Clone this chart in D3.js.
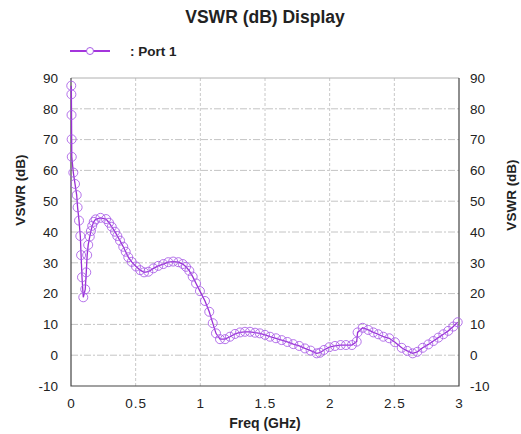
<!DOCTYPE html>
<html>
<head>
<meta charset="utf-8">
<script src="https://cdn.jsdelivr.net/npm/d3@7"></script>
<style>
  body { margin: 0; background: #fff; }
  text { font-family: "Liberation Sans", Arial, sans-serif; fill: #222; }
</style>
</head>
<body>
<div id="chart"></div>
<script>
// frequency sweep (GHz) and VSWR (dB)
const freqGHz = [
  0.002, 0.003, 0.004, 0.005, 0.006, 0.018, 0.031, 0.044, 0.051, 0.062, 0.072, 0.078, 0.085, 0.095,
  0.110, 0.118, 0.125, 0.133, 0.145, 0.154, 0.164, 0.176, 0.190, 0.228,
  0.271, 0.294, 0.315, 0.340, 0.358, 0.379, 0.404, 0.423, 0.443, 0.469, 0.503, 0.535, 0.565, 0.598,
  0.637, 0.675, 0.714, 0.752, 0.790, 0.830, 0.864,
  0.889, 0.915, 0.941, 0.967, 0.997, 1.036, 1.069, 1.096, 1.121, 1.152, 1.191, 1.229, 1.268, 1.307,
  1.345, 1.384, 1.423,
  1.460, 1.500, 1.539, 1.585, 1.629, 1.673, 1.719, 1.765, 1.809, 1.853, 1.900, 1.925, 1.956, 1.997,
  2.041, 2.085, 2.126, 2.172,
  2.209, 2.216, 2.255, 2.299, 2.338, 2.376, 2.415, 2.461, 2.505, 2.557, 2.600, 2.642, 2.678, 2.719,
  2.763, 2.802, 2.840, 2.879, 2.917, 2.956, 2.990
];
const vswrDb = [
  87.5, 84.7, 78.0, 70.1, 64.4, 59.3, 55.6, 52.0, 48.0, 43.7, 38.7, 32.5, 25.3, 18.8,
  21.4, 26.9, 32.5, 35.8, 38.5, 40.3, 42.0, 43.3, 44.1, 44.6,
  44.2, 43.0, 41.7, 40.1, 38.7, 37.2, 35.2, 33.6, 31.8, 30.3, 28.8, 27.6, 26.9, 27.1,
  28.2, 29.0, 29.6, 30.2, 30.4, 30.2, 29.6,
  28.7, 27.4, 25.5, 23.3, 20.8, 17.6, 14.1, 10.4, 7.1, 5.2, 5.2, 6.0, 6.9, 7.4,
  7.6, 7.6, 7.3,
  7.1, 6.6, 6.0, 5.5, 4.9, 4.3, 3.6, 3.0, 2.2, 1.5, 0.6, 0.8, 1.7, 2.6,
  3.0, 3.3, 3.3, 3.3,
  4.4, 7.4, 8.9, 8.2, 7.4, 6.8, 6.0, 5.5, 4.2, 2.4, 1.4, 0.6, 1.1, 2.4,
  3.5, 4.6, 5.7, 6.8, 7.9, 9.3, 10.7
];
const xTicks = [0, 0.5, 1, 1.5, 2, 2.5, 3];
const yTicks = [-10, 0, 10, 20, 30, 40, 50, 60, 70, 80, 90];
const seriesName = ": Port 1";

const W = 521, H = 434;
const plotL = 71, plotR = 459, plotT = 78, plotB = 386;
const lineColor = "#9a2fd6", markColor = "#a85ce6";

const svg = d3.select("#chart").append("svg")
  .attr("width", W).attr("height", H);

const x = d3.scaleLinear().domain([0, 3]).range([plotL, plotR]);
const y = d3.scaleLinear().domain([-10, 90]).range([plotB, plotT]);

const data = freqGHz.map((f, i) => ({ f, v: vswrDb[i] }));

// grid
svg.append("g").selectAll("line")
  .data(yTicks.filter(d => d > -10 && d < 90))
  .join("line")
    .attr("x1", plotL).attr("x2", plotR)
    .attr("y1", d => y(d)).attr("y2", d => y(d))
    .attr("stroke", "#c4c4c4")
    .attr("stroke-dasharray", "7,2,2,2");
svg.append("g").selectAll("line")
  .data(xTicks.filter(d => d > 0 && d < 3))
  .join("line")
    .attr("x1", d => x(d)).attr("x2", d => x(d))
    .attr("y1", plotT).attr("y2", plotB)
    .attr("stroke", "#c8c8c8")
    .attr("stroke-dasharray", "3,2");

// frame
svg.append("line")
  .attr("x1", plotL).attr("x2", plotR).attr("y1", plotT).attr("y2", plotT)
  .attr("stroke", "#b0b0b0");
svg.append("path")
  .attr("d", `M${plotL},${plotT}V${plotB}H${plotR}V${plotT}`)
  .attr("fill", "none").attr("stroke", "#444").attr("stroke-width", 1.2);

// axes (labels only, no tick marks)
const plain = d => String(d);
const axL = svg.append("g").attr("transform", `translate(${plotL},0)`)
  .call(d3.axisLeft(y).tickValues(yTicks).tickFormat(plain).tickSize(0).tickPadding(13));
const axR = svg.append("g").attr("transform", `translate(${plotR},0)`)
  .call(d3.axisRight(y).tickValues(yTicks).tickFormat(plain).tickSize(0).tickPadding(11));
const axB = svg.append("g").attr("transform", `translate(0,${plotB})`)
  .call(d3.axisBottom(x).tickValues(xTicks).tickFormat(plain).tickSize(0).tickPadding(12));
[axL, axR, axB].forEach(a => {
  a.select(".domain").remove();
  a.selectAll("text")
    .style("font-family", "'Liberation Sans', Arial, sans-serif")
    .style("font-size", "13.5px")
    .attr("fill", "#222");
});
axB.selectAll("text").style("letter-spacing", "1px");

// axis titles
svg.append("text")
  .attr("x", 265).attr("y", 428)
  .attr("text-anchor", "middle")
  .style("font-weight", "bold").style("font-size", "14px")
  .text("Freq (GHz)");
svg.append("text")
  .attr("transform", "translate(25,190) rotate(-90)")
  .attr("text-anchor", "middle")
  .style("font-weight", "bold").style("font-size", "13.5px")
  .text("VSWR (dB)");
svg.append("text")
  .attr("transform", "translate(516,195) rotate(-90)")
  .attr("text-anchor", "middle")
  .style("font-weight", "bold").style("font-size", "13.5px")
  .text("VSWR (dB)");

// title
svg.append("text")
  .attr("x", 265).attr("y", 23)
  .attr("text-anchor", "middle")
  .style("font-weight", "bold").style("font-size", "17.5px")
  .text("VSWR (dB) Display");

// legend
svg.append("line")
  .attr("x1", 70).attr("x2", 110).attr("y1", 51).attr("y2", 51)
  .attr("stroke", "#a435dc").attr("stroke-width", 2);
svg.append("circle")
  .attr("cx", 90).attr("cy", 51).attr("r", 3.5)
  .attr("fill", "#fff").attr("stroke", markColor);
svg.append("text")
  .attr("x", 130).attr("y", 56)
  .style("font-weight", "bold").style("font-size", "13.5px")
  .text(seriesName);

// series
const line = d3.line().x(d => x(d.f)).y(d => y(d.v));
svg.append("path")
  .datum(data)
  .attr("fill", "none")
  .attr("stroke", lineColor)
  .attr("stroke-width", 1.3)
  .attr("d", line);

svg.append("g").selectAll("circle")
  .data(data)
  .join("circle")
    .attr("cx", d => x(d.f))
    .attr("cy", d => y(d.v))
    .attr("r", 4.5)
    .attr("fill", "none")
    .attr("stroke", markColor)
    .attr("stroke-opacity", 0.85)
    .attr("stroke-width", 1);
</script>
</body>
</html>
